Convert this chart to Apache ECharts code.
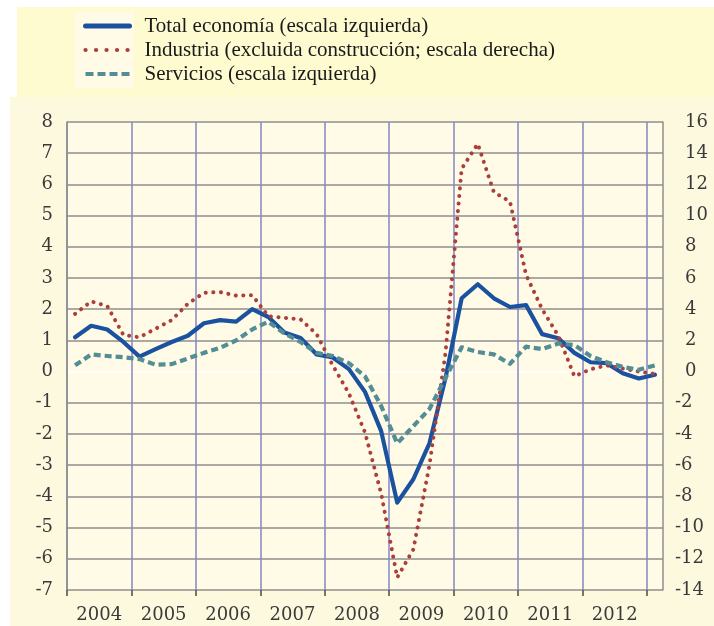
<!DOCTYPE html>
<html>
<head>
<meta charset="utf-8">
<script src="https://cdn.jsdelivr.net/npm/echarts@6.0.0/dist/echarts.min.js"></script>
<style>
  html, body { margin: 0; padding: 0; background: #ffffff; }
  #chart { width: 714px; height: 626px; }
</style>
</head>
<body>
<div id="chart"></div>
<script>
// Quarterly observations, 2004 Q1 to 2013 Q1
const quarters = [
  '2004T1', '2004T2', '2004T3', '2004T4',
  '2005T1', '2005T2', '2005T3', '2005T4',
  '2006T1', '2006T2', '2006T3', '2006T4',
  '2007T1', '2007T2', '2007T3', '2007T4',
  '2008T1', '2008T2', '2008T3', '2008T4',
  '2009T1', '2009T2', '2009T3', '2009T4',
  '2010T1', '2010T2', '2010T3', '2010T4',
  '2011T1', '2011T2', '2011T3', '2011T4',
  '2012T1', '2012T2', '2012T3', '2012T4',
  '2013T1'
];

const yearLabels = ['2004', '2005', '2006', '2007', '2008', '2009', '2010', '2011', '2012'];

const seriesNames = [
  'Total economía (escala izquierda)',
  'Industria (excluida construcción; escala derecha)',
  'Servicios (escala izquierda)'
];

// Total economía, left scale
const totalEconomia = [
  1.10, 1.47, 1.35, 0.95, 0.48, 0.72, 0.95, 1.15,
  1.55, 1.65, 1.60, 2.00, 1.75, 1.25, 1.08, 0.55,
  0.45, 0.08, -0.65, -1.90, -4.20, -3.45, -2.30, -0.20,
  2.35, 2.80, 2.35, 2.07, 2.13, 1.20, 1.07, 0.60,
  0.30, 0.27, -0.05, -0.22, -0.10
];

// Industria excluida construcción, right scale
const industria = [
  3.70, 4.50, 4.20, 2.35, 2.20, 2.75, 3.30, 4.35,
  5.05, 5.10, 4.87, 4.90, 3.55, 3.45, 3.35, 2.40,
  0.40, -1.40, -3.90, -7.80, -13.20, -11.40, -6.00, 1.20,
  13.00, 14.60, 11.50, 10.90, 6.20, 4.00, 2.30, -0.30,
  0.15, 0.40, 0.20, 0.00, -0.15
];

// Servicios, left scale
const servicios = [
  0.20, 0.55, 0.50, 0.46, 0.40, 0.22, 0.24, 0.42,
  0.60, 0.76, 1.00, 1.35, 1.60, 1.22, 0.95, 0.60,
  0.50, 0.27, -0.15, -1.10, -2.30, -1.75, -1.20, -0.20,
  0.78, 0.63, 0.55, 0.25, 0.80, 0.72, 0.90, 0.85,
  0.50, 0.30, 0.15, 0.06, 0.20
];

const LEFT_MIN = -7, LEFT_MAX = 8;
const RIGHT_MIN = -14, RIGHT_MAX = 16;

const COLOR_TOTAL = '#1a52a0';
const COLOR_IND = '#ab3f3c';
const COLOR_SERV = '#538d95';

// Each quarter sits in the middle of its quarter-year slot on the time axis
function quarterPosition(label) {
  const year = Number(label.slice(0, 4));
  const q = Number(label.slice(5));
  return year + (q - 0.5) / 4;
}
const toPairs = values => values.map((v, i) => [quarterPosition(quarters[i]), v]);

// Year boundaries carry the ticks and vertical grid lines; labels sit mid-year
const yearBoundaries = yearLabels.map(y => Number(y)).concat([Number(yearLabels[yearLabels.length - 1]) + 1]);
const yearMiddles = yearLabels.map(y => Number(y) + 0.5);

// Horizontal grid lines: grey, with the zero line drawn in white
const hLineColors = [];
for (let v = LEFT_MIN; v <= LEFT_MAX; v++) {
  hLineColors.push(v === 0 ? '#ffffff' : '#8e8e8e');
}

const serifLabel = {
  fontFamily: 'DejaVu Serif',
  fontSize: 18,
  color: '#3a3a3a'
};

const chart = echarts.init(document.getElementById('chart'), null, { renderer: 'canvas' });

chart.setOption({
  animation: false,
  backgroundColor: '#ffffff',
  graphic: [
    { type: 'rect', z: -10, silent: true, shape: { x: 17, y: 7, width: 697, height: 90 }, style: { fill: '#fefbd0' } },
    { type: 'rect', z: -9, silent: true, shape: { x: 75, y: 12, width: 59, height: 76 }, style: { fill: '#fffbe6' } },
    { type: 'rect', z: -10, silent: true, shape: { x: 10, y: 97, width: 704, height: 529 }, style: { fill: '#fdf9df' } }
  ],
  legend: {
    orient: 'vertical',
    left: 83,
    top: 14,
    padding: 0,
    itemWidth: 44,
    itemHeight: 14,
    itemGap: 0,
    selectedMode: false,
    itemStyle: { opacity: 0 },
    textStyle: {
      fontFamily: "'Liberation Serif', 'Times New Roman', serif",
      fontSize: 21,
      lineHeight: 24,
      color: '#1a1a1a',
      padding: [0, 0, 0, 10]
    },
    data: [
      { name: seriesNames[0], lineStyle: { width: 5, color: COLOR_TOTAL } },
      { name: seriesNames[1], lineStyle: { width: 4.2, color: COLOR_IND, type: [0.1, 10.4], cap: 'round' } },
      { name: seriesNames[2], lineStyle: { width: 4.2, color: COLOR_SERV, type: [8, 4] } }
    ]
  },
  grid: {
    left: 67,
    right: 51,
    top: 122,
    bottom: 36,
    show: true,
    backgroundColor: '#fffbe6',
    borderWidth: 0,
    outerBoundsMode: 'none'
  },
  xAxis: {
    type: 'value',
    min: yearBoundaries[0],
    max: yearBoundaries[yearBoundaries.length - 1] + 0.25,
    interval: 1,
    axisLine: { show: false, onZero: false },
    axisTick: {
      show: true,
      customValues: yearBoundaries,
      length: 6,
      lineStyle: { color: '#4a4a4a', width: 1.5 }
    },
    splitLine: {
      show: true,
      lineStyle: { color: '#8587c4', width: 1.5 }
    },
    axisLabel: Object.assign({
      customValues: yearMiddles,
      formatter: v => String(Math.floor(v)),
      margin: 16
    }, serifLabel)
  },
  yAxis: [
    {
      type: 'value',
      position: 'left',
      min: LEFT_MIN,
      max: LEFT_MAX,
      interval: 1,
      axisLine: { show: true, onZero: false, lineStyle: { color: '#8e8e8e', width: 1.5 } },
      axisTick: { show: false },
      splitLine: { show: true, lineStyle: { color: hLineColors, width: 1.5 } },
      axisLabel: Object.assign({ margin: 14 }, serifLabel)
    },
    {
      type: 'value',
      position: 'right',
      min: RIGHT_MIN,
      max: RIGHT_MAX,
      interval: 2,
      axisLine: { show: true, onZero: false, lineStyle: { color: '#8e8e8e', width: 1.5 } },
      axisTick: { show: false },
      splitLine: { show: false },
      axisLabel: Object.assign({
        margin: 12,
        align: 'left',
        formatter: v => (v < 0 ? '{n|' + v + '}' : '{p|' + v + '}'),
        rich: {
          n: Object.assign({}, serifLabel),
          p: Object.assign({ padding: [0, 0, 0, 10] }, serifLabel)
        }
      }, serifLabel)
    }
  ],
  series: [
    {
      name: seriesNames[0],
      type: 'line',
      yAxisIndex: 0,
      data: toPairs(totalEconomia),
      symbol: 'none',
      silent: true,
      z: 3,
      lineStyle: { color: COLOR_TOTAL, width: 4.2, cap: 'round', join: 'round' },
      itemStyle: { color: COLOR_TOTAL }
    },
    {
      name: seriesNames[1],
      type: 'line',
      yAxisIndex: 1,
      data: toPairs(industria),
      symbol: 'none',
      silent: true,
      z: 4,
      lineStyle: { color: COLOR_IND, width: 4, type: [0.1, 7.5], cap: 'round', join: 'round' },
      itemStyle: { color: COLOR_IND }
    },
    {
      name: seriesNames[2],
      type: 'line',
      yAxisIndex: 0,
      data: toPairs(servicios),
      symbol: 'none',
      silent: true,
      z: 5,
      lineStyle: { color: COLOR_SERV, width: 4.2, type: [7, 4], cap: 'butt', join: 'round' },
      itemStyle: { color: COLOR_SERV }
    }
  ]
});
</script>
</body>
</html>
